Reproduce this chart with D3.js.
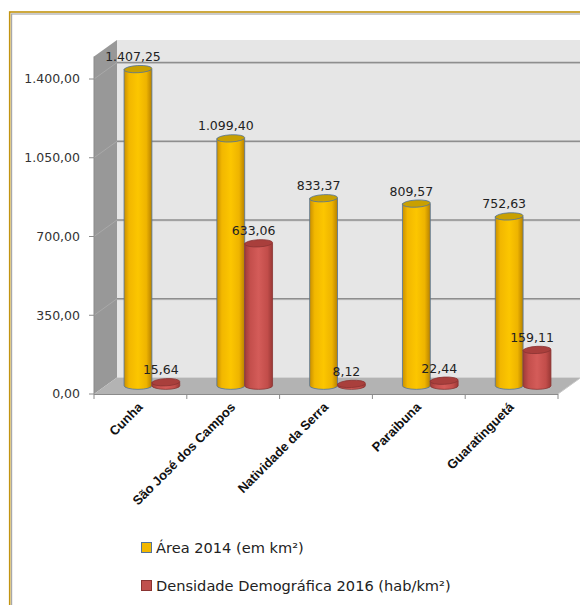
<!DOCTYPE html>
<html>
<head>
<meta charset="utf-8">
<script src="https://cdn.jsdelivr.net/npm/d3@7"></script>
<style>
  body { margin: 0; background: #fff; }
  svg { display: block; }
</style>
</head>
<body>
<div id="chart"></div>
<script>
// data
const cities = ["Cunha", "São José dos Campos", "Natividade da Serra", "Paraibuna", "Guaratinguetá"];
const area2014 = [1407.25, 1099.40, 833.37, 809.57, 752.63];
const densidade2016 = [15.64, 633.06, 8.12, 22.44, 159.11];
const seriesNames = ["Área 2014 (em km²)", "Densidade Demográfica 2016 (hab/km²)"];
const yTicks = [0, 350, 700, 1050, 1400];

const width = 580, height = 605;
const depth = { dx: 23, dy: -16.5 };   // 3d depth of the box
const wallMax = 1500;

const ptBR = d3.formatLocale({ decimal: ",", thousands: ".", grouping: [3], currency: ["R$", ""] });
const fmt = ptBR.format(",.2f");

const svg = d3.select("#chart").append("svg")
    .attr("width", width)
    .attr("height", height);

const defs = svg.append("defs");

// outer frame (runs off the picture on right / bottom)
svg.append("rect")
    .attr("x", 9.7).attr("y", 12).attr("width", 620).attr("height", 640)
    .attr("fill", "#fff").attr("stroke", "#c29410").attr("stroke-width", 1.6);
svg.append("rect")
    .attr("x", 11.6).attr("y", 14).attr("width", 620).attr("height", 640)
    .attr("fill", "none").attr("stroke", "#a8a8a8").attr("stroke-width", 1.2);

const x = d3.scaleBand().domain(cities).range([94, 558]);
const y = d3.scaleLinear().domain([0, 1400]).range([394, 79]);

const x0 = x.range()[0], x1 = x.range()[1];

// walls
const sideWall = [[x0, y(0)], [x0, y(wallMax)], [x0 + depth.dx, y(wallMax) + depth.dy], [x0 + depth.dx, y(0) + depth.dy]];
const backWall = [[x0 + depth.dx, y(wallMax) + depth.dy], [x1 + depth.dx, y(wallMax) + depth.dy], [x1 + depth.dx, y(0) + depth.dy], [x0 + depth.dx, y(0) + depth.dy]];
const floor = [[x0, y(0)], [x0 + depth.dx, y(0) + depth.dy], [x1 + depth.dx, y(0) + depth.dy], [x1, y(0)]];

const poly = pts => "M" + pts.map(p => p.join(",")).join("L") + "Z";

svg.append("path").attr("d", poly(backWall)).attr("fill", "#e6e6e6");
svg.append("path").attr("d", poly(sideWall)).attr("fill", "#989898");

// gridlines on side and back walls
const grid = svg.append("g");
yTicks.filter(t => t > 0).forEach(t => {
    const yb = y(t) + depth.dy;
    grid.append("line")
        .attr("x1", x0 + depth.dx).attr("x2", x1 + depth.dx)
        .attr("y1", yb + 1).attr("y2", yb + 1)
        .attr("stroke", "#cfcfcf").attr("stroke-width", 1);
    grid.append("line")
        .attr("x1", x0 + depth.dx).attr("x2", x1 + depth.dx)
        .attr("y1", yb).attr("y2", yb)
        .attr("stroke", "#8e8e8e").attr("stroke-width", 1.3);
    grid.append("line")
        .attr("x1", x0).attr("x2", x0 + depth.dx)
        .attr("y1", y(t)).attr("y2", yb)
        .attr("stroke", "#a9a9a9").attr("stroke-width", 1);
});

svg.append("path").attr("d", poly(floor)).attr("fill", "#b3b3b3");
svg.append("line")
    .attr("x1", x1).attr("y1", y(0))
    .attr("x2", x1 + depth.dx).attr("y2", y(0) + depth.dy)
    .attr("stroke", "#c8c8c8").attr("stroke-width", 1);

// axes
const axisColor = "#8a8a8a";
svg.append("line")
    .attr("x1", x0).attr("x2", x0)
    .attr("y1", y(wallMax)).attr("y2", y(0))
    .attr("stroke", axisColor);
svg.append("line")
    .attr("x1", x0).attr("x2", x1)
    .attr("y1", y(0) + 0.5).attr("y2", y(0) + 0.5)
    .attr("stroke", axisColor);

const yAxis = svg.append("g");
yTicks.forEach(t => {
    yAxis.append("line")
        .attr("x1", x0 - 5).attr("x2", x0)
        .attr("y1", y(t)).attr("y2", y(t))
        .attr("stroke", axisColor);
    yAxis.append("text")
        .attr("x", 80).attr("y", y(t)).attr("dy", "0.35em")
        .attr("text-anchor", "end")
        .attr("font-family", "DejaVu Sans")
        .attr("font-size", "12.5px")
        .attr("fill", "#333")
        .text(fmt(t));
});

const xAxis = svg.append("g");
const bounds = cities.map(c => x(c)).concat([x1]);
bounds.forEach(b => {
    xAxis.append("line")
        .attr("x1", b).attr("x2", b)
        .attr("y1", y(0)).attr("y2", y(0) + 5)
        .attr("stroke", axisColor);
});
cities.forEach(c => {
    const cx = x(c) + x.bandwidth() / 2;
    xAxis.append("text")
        .attr("transform", `translate(${cx + 3},${y(0) + 14}) rotate(-45)`)
        .attr("text-anchor", "end")
        .attr("font-family", "Liberation Sans")
        .attr("font-weight", "bold")
        .attr("font-size", "13px")
        .attr("fill", "#111")
        .text(c);
});

// cylinder gradients
function makeGrad(id, stops) {
    const g = defs.append("linearGradient").attr("id", id)
        .attr("x1", "0%").attr("x2", "100%").attr("y1", "0%").attr("y2", "0%");
    stops.forEach(s => g.append("stop").attr("offset", s[0]).attr("stop-color", s[1]));
}
makeGrad("gYellow", [["0%", "#c98f00"], ["18%", "#f2b700"], ["50%", "#fcc600"], ["80%", "#eeb400"], ["100%", "#b78100"]]);
makeGrad("gRed", [["0%", "#9e3b38"], ["20%", "#c44f4c"], ["50%", "#d45c59"], ["82%", "#c24d4a"], ["100%", "#993835"]]);

const series = [
    { name: seriesNames[0], values: area2014, grad: "url(#gYellow)", top: "#c9a000", stroke: "#52739c", swatch: "#f2b800" },
    { name: seriesNames[1], values: densidade2016, grad: "url(#gRed)", top: "#a93f3c", stroke: "#8a3432", swatch: "#c0504d" }
];

const barW = x.bandwidth() * 0.3;
const ry = 3.6;
const mid = { dx: depth.dx / 2, dy: depth.dy / 2 };

const bars = svg.append("g");
const labels = [];
cities.forEach((c, i) => {
    const cc = x(c) + x.bandwidth() / 2 + mid.dx;
    series.forEach((s, k) => {
        const v = s.values[i];
        const left = cc - barW + k * barW;
        const cx = left + barW / 2;
        const yBase = y(0) + mid.dy;
        const yTop = y(v) + mid.dy;
        const rx = barW / 2;
        const g = bars.append("g");
        g.append("path")
            .attr("d", `M${left},${yTop} L${left},${yBase} A${rx},${ry} 0 0 0 ${left + barW},${yBase} L${left + barW},${yTop} Z`)
            .attr("fill", s.grad)
            .attr("stroke", s.stroke).attr("stroke-width", 0.8);
        g.append("ellipse")
            .attr("cx", cx).attr("cy", yTop)
            .attr("rx", rx).attr("ry", ry)
            .attr("transform", `rotate(-3,${cx},${yTop})`)
            .attr("fill", s.top)
            .attr("stroke", s.stroke).attr("stroke-width", 0.8);
        labels.push({ x: cx - 5, y: yTop - 8, v: v });
    });
});

svg.append("g").selectAll("text")
    .data(labels)
    .join("text")
    .attr("x", d => d.x).attr("y", d => d.y)
    .attr("text-anchor", "middle")
    .attr("font-family", "DejaVu Sans")
    .attr("font-size", "12.5px")
    .attr("fill", "#222")
    .text(d => fmt(d.v));

// legend
const legend = svg.append("g").attr("transform", "translate(141,542)");
series.forEach((s, k) => {
    const row = legend.append("g").attr("transform", `translate(0,${k * 38})`);
    row.append("rect")
        .attr("x", 0.5).attr("y", 0.5).attr("width", 10).attr("height", 10)
        .attr("fill", s.swatch)
        .attr("stroke", s.stroke).attr("stroke-width", 1);
    row.append("text")
        .attr("x", 15).attr("y", 10.5)
        .attr("font-family", "DejaVu Sans")
        .attr("font-size", "14.6px")
        .attr("fill", "#222")
        .text(s.name);
});
</script>
</body>
</html>
